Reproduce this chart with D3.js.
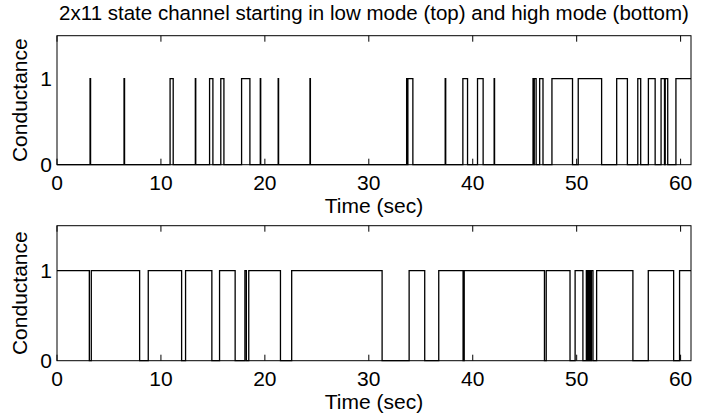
<!DOCTYPE html>
<html>
<head>
<meta charset="utf-8">
<script src="https://cdn.jsdelivr.net/npm/d3@7"></script>
<style>
  html, body { margin: 0; padding: 0; background: #fff; }
  svg { display: block; }
  text { font-family: "Liberation Sans", Arial, Helvetica, sans-serif; fill: #000; }
</style>
</head>
<body>
<svg id="chart" width="704" height="413"></svg>
<script>
// Channel state records: initial state plus the times (sec) at which the state flips.
const titleText = "2x11 state channel starting in low mode (top) and high mode (bottom)";
const xLabel = "Time (sec)";
const yLabel = "Conductance";
const xTicks = [0, 10, 20, 30, 40, 50, 60];
const yTicks = [0, 1];
const timeDomain = [0, 61];
const conductanceDomain = [0, 1.5];

const lowStartState = 0;
const lowStartFlips = [
  3.18, 3.23, 6.45, 6.5, 10.88, 11.18, 13.31, 13.35, 14.68, 15.0,
  15.76, 16.06, 17.76, 18.56, 19.56, 19.6, 21.28, 21.32, 24.34, 24.38,
  33.64, 33.7, 33.76, 34.24, 37.35, 37.4, 39.05, 39.5, 40.46, 41.0,
  42.06, 42.1, 45.8, 45.86, 45.92, 46.1, 46.44, 46.76, 47.62, 49.6,
  50.15, 52.4, 53.85, 54.88, 55.88, 56.16, 56.9, 57.55, 58.12, 58.45,
  58.52, 58.76, 59.55
];

const highStartState = 1;
const highStartFlips = [
  3.11, 3.3, 7.95, 8.78, 11.99, 12.37, 14.9, 15.64, 17.14, 18.08,
  18.22, 18.45, 21.5, 22.58, 31.28, 33.88, 35.38, 36.73, 39.07, 39.18,
  46.9, 47.07, 49.36, 49.85, 50.6, 50.93, 51.0, 51.1, 51.17, 51.27,
  51.33, 51.42, 51.57, 51.92, 55.41, 56.89, 59.33, 59.9
];

// Turn a flip list into step points (state holds until the next flip).
function stepPoints(start, flips, end) {
  const pts = [{ t: 0, v: start }];
  let v = start;
  flips.forEach(t => { v = 1 - v; pts.push({ t, v }); });
  pts.push({ t: end, v });
  return pts;
}

const svg = d3.select("#chart");

const panels = [
  { state: lowStartState, flips: lowStartFlips, top: 35.7, bottom: 164.7, tickBase: 190, labelBase: 213 },
  { state: highStartState, flips: highStartFlips, top: 225.7, bottom: 360.7, tickBase: 386, labelBase: 409 }
];

const left = 57, right = 691;
const x = d3.scaleLinear().domain(timeDomain).range([left, right]);

svg.append("text")
  .attr("x", (left + right) / 2)
  .attr("y", 20)
  .attr("text-anchor", "middle")
  .style("font-size", "20.5px")
  .text(titleText);

panels.forEach(p => {
  const y = d3.scaleLinear().domain(conductanceDomain).range([p.bottom, p.top]);
  const g = svg.append("g");

  // ticks pointing inward, at both bottom and top edges
  g.selectAll("line.xt-b").data(xTicks).join("line")
    .attr("x1", d => x(d)).attr("x2", d => x(d))
    .attr("y1", p.bottom).attr("y2", p.bottom - 6)
    .attr("stroke", "#000").attr("stroke-width", 1);
  g.selectAll("line.xt-t").data(xTicks).join("line")
    .attr("x1", d => x(d)).attr("x2", d => x(d))
    .attr("y1", p.top).attr("y2", p.top + 6)
    .attr("stroke", "#000").attr("stroke-width", 1);

  // step trace
  const line = d3.line()
    .x(d => x(d.t))
    .y(d => y(d.v))
    .curve(d3.curveStepAfter);
  g.append("path")
    .datum(stepPoints(p.state, p.flips, timeDomain[1]))
    .attr("d", line)
    .attr("fill", "none")
    .attr("stroke", "#000")
    .attr("stroke-width", 1.3);

  // axes box
  g.append("rect")
    .attr("x", left).attr("y", p.top)
    .attr("width", right - left).attr("height", p.bottom - p.top)
    .attr("fill", "none").attr("stroke", "#000").attr("stroke-width", 1);

  // x tick labels
  g.selectAll("text.xl").data(xTicks).join("text")
    .attr("x", d => x(d)).attr("y", p.tickBase)
    .attr("text-anchor", "middle")
    .style("font-size", "21px")
    .text(d => d);

  // y tick labels
  g.selectAll("text.yl").data(yTicks).join("text")
    .attr("x", left - 5).attr("y", d => y(d) + 7.5)
    .attr("text-anchor", "end")
    .style("font-size", "21px")
    .text(d => d);

  g.append("text")
    .attr("x", (left + right) / 2).attr("y", p.labelBase)
    .attr("text-anchor", "middle")
    .style("font-size", "21px")
    .text(xLabel);

  g.append("text")
    .attr("transform", `translate(27,${(p.top + p.bottom) / 2}) rotate(-90)`)
    .attr("text-anchor", "middle")
    .style("font-size", "21px")
    .text(yLabel);
});
</script>
</body>
</html>
